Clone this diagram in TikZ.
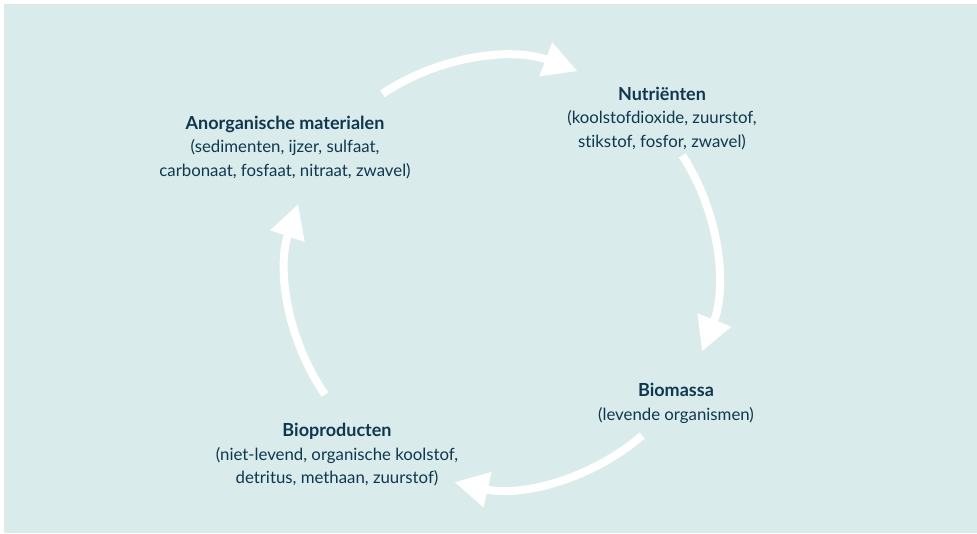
\documentclass[tikz,border=0pt]{standalone}
\usepackage{fontspec}
\setmainfont{Lato}[Ligatures=CommonOff]
\usetikzlibrary{arrows.meta}
\definecolor{bgteal}{RGB}{217,235,235}
\definecolor{navy}{RGB}{16,55,80}
\newcommand{\ttl}[1]{{\fontsize{18}{23.5}\selectfont\bfseries #1}}
\begin{document}
\begin{tikzpicture}[x=1pt,y=1pt,
  label/.style={align=center, text=navy, inner sep=0pt,
    font=\fontsize{16.8}{23.5}\selectfont},
  cyc/.style={draw=white, line width=8pt,
    -{Triangle[length=34pt,width=34pt]}}]
\useasboundingbox (0,0) rectangle (977,533);
\fill[bgteal] (4,0) rectangle (977,529);
\coordinate (c) at (502,260.5);
\node[label] (anorg) at (285,385.5) {\ttl{Anorganische materialen}\\(sedimenten, ijzer, sulfaat,\\carbonaat, fosfaat, nitraat, zwavel)};
\node[label] (nutr) at (662,414.5) {\ttl{Nutriënten}\\(koolstofdioxide, zuurstof,\\stikstof, fosfor, zwavel)};
\node[label] (bio) at (676,129.5) {\ttl{Biomassa}\\(levende organismen)};
\node[label] (biop) at (337,78) {\ttl{Bioproducten}\\(niet-levend, organische koolstof,\\detritus, methaan, zuurstof)};
\draw[cyc] (c) ++(123.8:215) coordinate (a1) arc[start angle=123.8, end angle=69.4, radius=215];
\draw[cyc] (c) ++(33:215) coordinate (a2) arc[start angle=33, end angle=-21.6, radius=215];
\draw[cyc] (c) ++(-49.3:215) coordinate (a3) arc[start angle=-49.3, end angle=-102.8, radius=215];
\draw[cyc] (c) ++(-145.4:215) coordinate (a4) arc[start angle=-145.4, end angle=-198.6, radius=215];
\end{tikzpicture}
\end{document}
